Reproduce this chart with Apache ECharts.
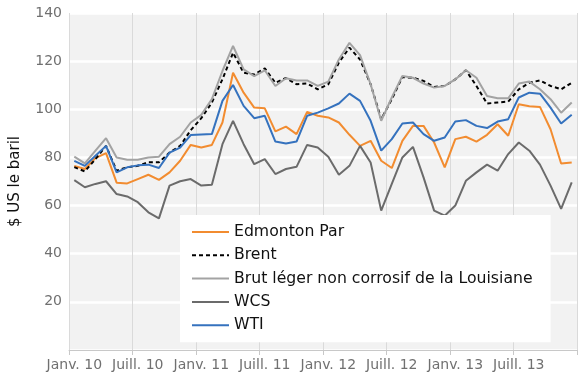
<!DOCTYPE html>
<html>
<head>
<meta charset="utf-8">
<script src="https://cdn.jsdelivr.net/npm/echarts@6/dist/echarts.min.js"></script>
<style>
html,body{margin:0;padding:0;background:#fff;}
#chart{width:580px;height:392px;}
</style>
</head>
<body>
<div id="chart"></div>
<script>
var months = ['Janv.','Févr.','Mars','Avr.','Mai','Juin','Juill.','Août','Sept.','Oct.','Nov.','Déc.'];
var years = ['10','11','12','13'];
var categories = [];
years.forEach(function(y){ months.forEach(function(m){ categories.push(m + ' ' + y); }); });

var seriesNames = ['Edmonton Par','Brent','Brut léger non corrosif de la Louisiane','WCS','WTI'];

var edmonton = [76.5, 75.2, 79.7, 81.8, 69.5, 69.2, 71.0, 72.8, 70.7, 73.8, 78.6, 85.2,
                84.1, 85.2, 94.5, 115.2, 106.9, 100.7, 100.4, 90.8, 92.8, 89.7, 98.9, 97.3,
                96.6, 94.5, 89.4, 84.8, 86.9, 78.6, 75.6, 86.9, 93.1, 93.1, 86.2, 75.9,
                87.6, 88.6, 86.6, 89.4, 93.8, 89.0, 102.1, 101.3, 101.0, 91.7, 77.5, 77.9];
var brent = [76.0, 74.2, 79.3, 84.8, 74.5, 75.9, 76.5, 78.0, 78.0, 82.0, 84.8, 91.3,
             96.3, 102.8, 112.5, 123.5, 115.2, 114.5, 117.0, 111.0, 113.0, 110.4, 110.7, 108.3,
             110.4, 119.4, 125.6, 120.7, 110.4, 95.9, 104.2, 113.4, 113.1, 111.8, 109.3, 109.7,
             112.4, 116.2, 109.7, 102.4, 102.8, 103.2, 108.3, 111.0, 112.0, 109.7, 108.3, 111.0];
var louisiane = [80.3, 77.5, 82.8, 88.0, 80.0, 79.0, 79.0, 80.0, 80.3, 85.5, 88.6, 94.5,
                 97.7, 104.2, 115.9, 126.3, 116.6, 113.8, 116.2, 109.7, 112.9, 112.0, 112.0, 109.7,
                 111.5, 120.7, 127.6, 122.5, 110.4, 95.2, 104.9, 113.8, 113.1, 110.7, 109.0, 109.7,
                 112.4, 116.2, 113.1, 105.5, 104.6, 104.6, 110.7, 111.5, 108.3, 104.2, 98.6, 102.8];
var wcs = [70.6, 67.6, 69.0, 70.1, 64.8, 63.8, 61.4, 57.2, 54.7, 68.3, 70.1, 71.0,
           68.3, 68.7, 85.5, 95.2, 85.5, 77.2, 79.3, 73.1, 75.2, 76.1, 85.2, 84.1,
           80.3, 72.8, 76.5, 84.8, 77.9, 57.9, 69.0, 80.0, 84.4, 71.7, 57.9, 55.8,
           60.0, 70.3, 73.8, 77.0, 74.5, 81.4, 86.2, 82.8, 77.0, 68.3, 58.6, 69.6];
var wti = [78.6, 76.5, 80.7, 84.8, 73.8, 75.9, 76.7, 77.0, 75.6, 82.0, 84.1, 89.3,
           89.5, 89.7, 103.5, 110.1, 101.4, 96.3, 97.3, 86.6, 85.8, 86.6, 97.3, 98.6,
           100.4, 102.4, 106.5, 103.5, 95.2, 82.8, 87.6, 94.1, 94.5, 89.7, 86.9, 88.3,
           94.9, 95.5, 93.1, 92.2, 94.9, 95.9, 104.9, 106.9, 106.5, 100.7, 94.1, 97.7];

var yAxisName = '$ US le baril';
var FONT = 'DejaVu Sans';

var chart = echarts.init(document.getElementById('chart'), null, {renderer:'canvas'});

function line(name, data, color, dashed){
  return {
    name: name, type: 'line', data: data, symbol: 'none', smooth: false,
    lineStyle: {color: color, width: 2, type: dashed ? [4,3] : 'solid'},
    itemStyle: {color: color, opacity: 0},
    emphasis: {disabled: true},
    animation: false
  };
}

chart.setOption({
  backgroundColor: '#ffffff',
  animation: false,
  textStyle: {fontFamily: FONT},
  grid: {left: 69, right: 3, top: 13, bottom: 42, show: true, backgroundColor: '#f2f2f2', borderWidth: 0, containLabel: false},
  legend: {
    show: true,
    orient: 'vertical',
    left: 180, top: 215,
    backgroundColor: '#ffffff',
    padding: [9, 18, 9, 11],
    itemWidth: 37, itemHeight: 16, itemGap: 7.3,
    textStyle: {fontFamily: FONT, fontSize: 15.7, color: '#111', lineHeight: 16},
    data: seriesNames.map(function(n){ return {name: n}; })
  },
  xAxis: {
    type: 'category',
    data: categories,
    boundaryGap: true,
    axisLine: {show: true, lineStyle: {color: '#c8c8c8', width: 1}},
    axisTick: {show: true, interval: 5, length: 5, lineStyle: {color: '#c8c8c8'}},
    axisLabel: {interval: 5, color: '#707070', fontFamily: FONT, fontSize: 14, margin: 8},
    splitLine: {show: true, interval: 5, lineStyle: {color: '#dadada', width: 1}}
  },
  yAxis: {
    type: 'value',
    min: 0, max: 140, interval: 20,
    name: yAxisName,
    nameLocation: 'middle',
    nameGap: 46,
    nameTextStyle: {color: '#111', fontFamily: FONT, fontSize: 15},
    axisLine: {show: false},
    axisTick: {show: false},
    axisLabel: {color: '#707070', fontFamily: FONT, fontSize: 14, margin: 7,
      formatter: function(v){ return v === 0 ? '' : String(v); }},
    splitLine: {show: true, lineStyle: {color: '#ffffff', width: 2.5}}
  },
  series: [
    line(seriesNames[0], edmonton, '#f28c30', false),
    line(seriesNames[1], brent, '#000000', true),
    line(seriesNames[2], louisiane, '#a3a3a3', false),
    line(seriesNames[3], wcs, '#6b6b6b', false),
    line(seriesNames[4], wti, '#3572be', false)
  ]
});
</script>
</body>
</html>
